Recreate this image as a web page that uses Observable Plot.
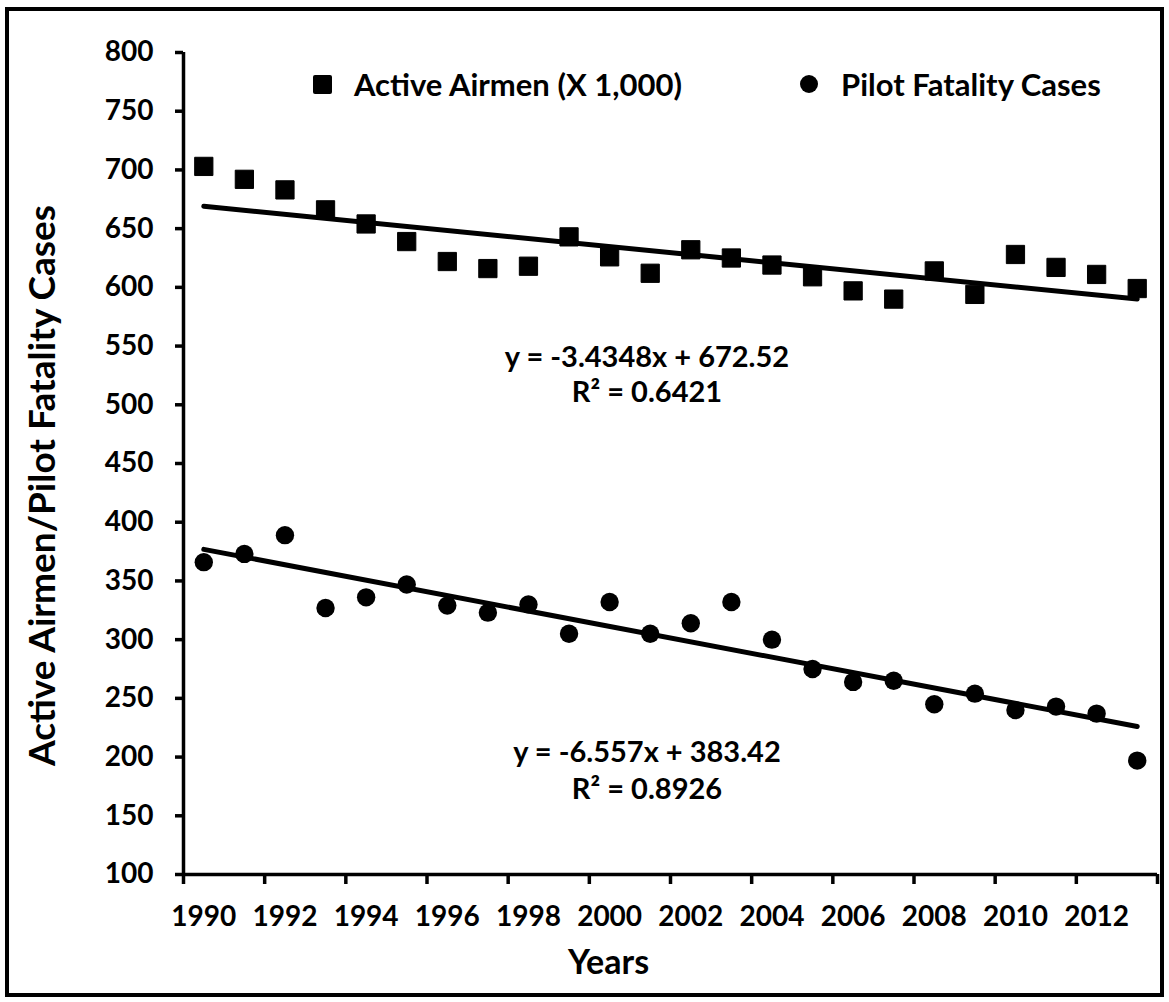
<!DOCTYPE html>
<html>
<head>
<meta charset="utf-8">
<script src="https://cdn.jsdelivr.net/npm/d3@7"></script>
<script src="https://cdn.jsdelivr.net/npm/@observablehq/plot@0.6"></script>
<style>
  html, body { margin: 0; padding: 0; background: #fff; }
  #wrap { position: relative; width: 1169px; height: 1002px; font-family: Lato, sans-serif; font-weight: 700; color: #000; }
  #chart { position: absolute; left: 0; top: 0; }
  #border { position: absolute; left: 5px; top: 7px; width: 1151px; height: 982px; border: 4.5px solid #000; pointer-events: none; }
  .leg-item { position: absolute; display: flex; align-items: center; font-size: 31px; line-height: 1; white-space: nowrap; }
  .sw-square { width: 19px; height: 19px; background: #000; border-radius: 2px; margin-right: 22px; }
  .sw-circle { width: 18px; height: 18px; background: #000; border-radius: 50%; margin-right: 23px; }
</style>
</head>
<body>
<div id="wrap">
  <div id="chart"></div>
  <div id="legend"></div>
  <div id="border"></div>
</div>
<script>
// ---- data ----
const years = [1990, 1991, 1992, 1993, 1994, 1995, 1996, 1997, 1998, 1999, 2000, 2001,
               2002, 2003, 2004, 2005, 2006, 2007, 2008, 2009, 2010, 2011, 2012, 2013];
const activeAirmen = [703, 692, 683, 666, 654, 639, 622, 616, 618, 643, 626, 612,
                      632, 625, 619, 609, 597, 590, 614, 594, 628, 617, 611, 599];
const pilotFatalities = [366, 373, 389, 327, 336, 347, 329, 323, 330, 305, 332, 305,
                         314, 332, 300, 275, 264, 265, 245, 254, 240, 243, 237, 197];
const seriesNames = ["Active Airmen (X 1,000)", "Pilot Fatality Cases"];
const trendSlopes = [-3.4348, -6.557];
const trendIntercepts = [672.52, 383.42];
const equationTexts = ["y = -3.4348x + 672.52", "R² = 0.6421", "y = -6.557x + 383.42", "R² = 0.8926"];
const equationX = [2000.92, 2000.92, 2000.92, 2000.92];
const equationY = [540, 510, 203.5, 172];
const yTicks = [100, 150, 200, 250, 300, 350, 400, 450, 500, 550, 600, 650, 700, 750, 800];
const xLabelYears = [1990, 1992, 1994, 1996, 1998, 2000, 2002, 2004, 2006, 2008, 2010, 2012];
const yTitle = "Active Airmen/Pilot Fatality Cases";
const xTitle = "Years";

// ---- derived tables ----
const airmenData = years.map((year, i) => ({year, value: activeAirmen[i]}));
const pilotData = years.map((year, i) => ({year, value: pilotFatalities[i]}));
const xTickMarks = xLabelYears.map(y => y - 0.5).concat([years[years.length - 1] + 0.5]);
const trendData = [];
trendSlopes.forEach((m, s) => {
  [years[0], years[years.length - 1]].forEach(year => {
    const idx = year - years[0] + 1;
    trendData.push({series: seriesNames[s], year, value: m * idx + trendIntercepts[s]});
  });
});
const eqData = equationTexts.map((text, i) => ({text, x: equationX[i], y: equationY[i]}));

const chart = Plot.plot({
  width: 1169,
  height: 1002,
  marginLeft: 183,
  marginRight: 12,
  marginTop: 52,
  marginBottom: 128,
  x: {type: "linear", domain: [years[0] - 0.5, years[years.length - 1] + 0.5]},
  y: {domain: [yTicks[0], yTicks[yTicks.length - 1]]},
  style: {fontFamily: "Lato, sans-serif", fontWeight: 700, fontSize: "28px", color: "#000", background: "transparent", overflow: "visible"},
  marks: [
    Plot.axisY({ticks: yTicks, tickSize: 8, tickPadding: 22, strokeWidth: 3.5, label: null, tickFormat: d => String(d)}),
    Plot.axisX({ticks: xTickMarks, tickSize: 10, strokeWidth: 3.5, label: null, tickFormat: () => ""}),
    Plot.axisX({ticks: xLabelYears, tickSize: 0, tickPadding: 32, label: null, tickFormat: d => String(d)}),
    Plot.ruleX([years[0] - 0.5], {stroke: "#000", strokeWidth: 3.5}),
    Plot.ruleY([yTicks[0]], {stroke: "#000", strokeWidth: 3.5}),
    Plot.line(trendData, {x: "year", y: "value", z: "series", stroke: "#000", strokeWidth: 5, strokeLinecap: "round"}),
    Plot.dot(airmenData, {x: "year", y: "value", symbol: "square", r: 10.3, fill: "#000", stroke: "#000", strokeWidth: 1, strokeLinejoin: "round"}),
    Plot.dot(pilotData, {x: "year", y: "value", symbol: "circle", r: 9.2, fill: "#000"}),
    Plot.text(eqData, {x: "x", y: "y", text: "text", fontSize: 29, textAnchor: "middle", fill: "#000"}),
    Plot.text([yTitle], {frameAnchor: "left", textAnchor: "middle", rotate: -90, dx: -140, dy: 22, fontSize: 37, fill: "#000"}),
    Plot.text([xTitle], {frameAnchor: "bottom", textAnchor: "middle", dx: -62, dy: 99, fontSize: 34, fill: "#000"})
  ]
});
document.getElementById("chart").appendChild(chart);

// ---- legend ----
const legend = document.getElementById("legend");
const legendSpec = [
  {name: seriesNames[0], cls: "sw-square", left: 313, top: 84},
  {name: seriesNames[1], cls: "sw-circle", left: 800, top: 84}
];
legendSpec.forEach(d => {
  const item = document.createElement("div");
  item.className = "leg-item";
  item.style.left = d.left + "px";
  item.style.top = (d.top - 16) + "px";
  item.style.height = "32px";
  const sw = document.createElement("div");
  sw.className = d.cls;
  const label = document.createElement("span");
  label.textContent = d.name;
  item.appendChild(sw);
  item.appendChild(label);
  legend.appendChild(item);
});
</script>
</body>
</html>
